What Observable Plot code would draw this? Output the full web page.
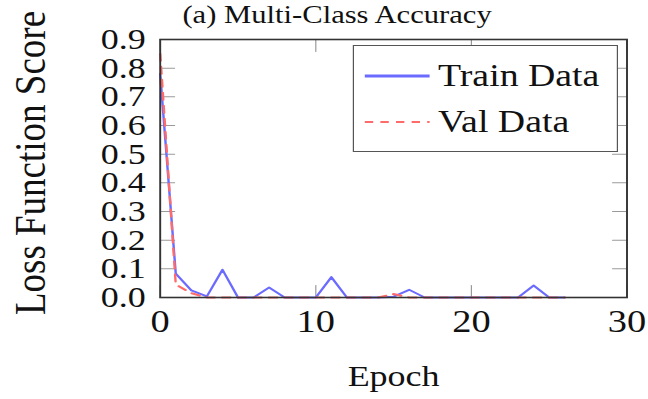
<!DOCTYPE html>
<html>
<head>
<meta charset="utf-8">
<script src="https://cdn.jsdelivr.net/npm/d3@7"></script>
<script src="https://cdn.jsdelivr.net/npm/@observablehq/plot@0.6"></script>
<style>
  html, body { margin: 0; padding: 0; background: #fff; }
  #wrap { position: relative; width: 540px; height: 399px; transform: scaleX(1.2); transform-origin: 0 0;
          font-family: "Liberation Serif", "DejaVu Serif", serif; color: #111; }
  #chart { position: absolute; left: 0; top: 0; }
  #title { position: absolute; left: 152px; top: 2px; font-size: 25.5px; line-height: 26px; white-space: nowrap; }
  #ylabel { position: absolute; left: 25px; top: 163px; font-size: 37px; line-height: 37px; white-space: nowrap;
            transform: translate(-50%, -50%) rotate(-90deg); }
  #legend { position: absolute; left: 294px; top: 45px; width: 221px; height: 107px; border: 1.2px solid #555;
            background: #fff; box-sizing: border-box; }
  .item { position: absolute; left: 8px; display: flex; align-items: center; font-size: 31.5px; line-height: 33px; white-space: nowrap; }
  .item svg { margin-right: 6px; }
</style>
</head>
<body>
<div id="wrap">
  <div id="chart"></div>
  <div id="title">(a) Multi-Class Accuracy</div>
  <div id="ylabel">Loss Function Score</div>
  <div id="legend"></div>
</div>
<script>
// ---- data ----
const epochs    = [0, 1, 2, 3, 4, 5, 6, 7, 8, 9, 10, 11, 12, 13, 14, 15, 16, 17, 18, 19, 20, 21, 22, 23, 24, 25, 26];
const trainLoss = [0.78, 0.083, 0.025, 0.004, 0.097, 0.0, 0.0, 0.035, 0.0, 0.0, 0.0, 0.071, 0.0, 0.0, 0.0, 0.003, 0.027, 0.0, 0.0, 0.0, 0.0, 0.0, 0.0, 0.0, 0.042, 0.0, 0.0];
const valLoss   = [0.85, 0.045, 0.015, 0.0, 0.0, 0.0, 0.0, 0.0, 0.0, 0.0, 0.0, 0.0, 0.0, 0.0, 0.0, 0.012, 0.0, 0.0, 0.0, 0.0, 0.0, 0.0, 0.0, 0.0, 0.0, 0.0, 0.0];
const seriesNames = ["Train Data", "Val Data"];
const xTicks = [0, 10, 20, 30];
const yTicks = [0, 0.1, 0.2, 0.3, 0.4, 0.5, 0.6, 0.7, 0.8, 0.9];
const xDomain = [0, 30];
const yDomain = [0, 0.9];

const trainColor = "#6b6bff";
const valColor = "#ff6b6b";

const rows = epochs.map((e, i) => ({epoch: e, train: trainLoss[i], val: valLoss[i]}));
const spike = {draw(ctx, l) { ctx.moveTo(0, 0); ctx.lineTo(0, -l); }};
const tickStyle = {length: 12, anchor: "start", shape: spike, stroke: "#9a9a9a", strokeWidth: 1};

const chart = Plot.plot({
  width: 540,
  height: 399,
  marginLeft: 133,
  marginRight: 18,
  marginTop: 39,
  marginBottom: 102,
  x: {domain: xDomain},
  y: {domain: yDomain},
  style: {fontFamily: "'Liberation Serif', 'DejaVu Serif', serif", background: "transparent", color: "#111"},
  marks: [
    Plot.vector(yTicks, {...tickStyle, x: () => xDomain[0], y: d => d, rotate: 90}),
    Plot.vector(yTicks, {...tickStyle, x: () => xDomain[1], y: d => d, rotate: -90}),
    Plot.vector(xTicks, {...tickStyle, x: d => d, y: () => yDomain[0], rotate: 0}),
    Plot.vector(xTicks, {...tickStyle, x: d => d, y: () => yDomain[1], rotate: 180}),
    Plot.line(rows, {x: "epoch", y: "train", stroke: trainColor, strokeWidth: 2}),
    Plot.line(rows, {x: "epoch", y: "val", stroke: valColor, strokeWidth: 2, strokeDasharray: "7,6"}),
    Plot.frame({stroke: "#333", strokeWidth: 1.6}),
    Plot.axisY({ticks: yTicks, tickFormat: ".1f", tickSize: 0, tickPadding: 12, fontSize: 30, label: null}),
    Plot.axisX({ticks: xTicks, tickSize: 0, tickPadding: 12, fontSize: 32, label: null}),
    Plot.text(["Epoch"], {text: d => d, frameAnchor: "bottom", dy: 88, lineAnchor: "bottom", fontSize: 30})
  ]
});
document.getElementById("chart").appendChild(chart);

// legend
const legend = document.getElementById("legend");
const legendItems = [
  {name: seriesNames[0], color: trainColor, dash: null, top: 13},
  {name: seriesNames[1], color: valColor, dash: "7,6", top: 59}
];
for (const it of legendItems) {
  const div = document.createElement("div");
  div.className = "item";
  div.style.top = it.top + "px";
  div.innerHTML = `<svg width="56" height="10"><line x1="1" y1="5" x2="55" y2="5" stroke="${it.color}" stroke-width="${it.dash ? 2 : 3}" ${it.dash ? `stroke-dasharray="${it.dash}"` : ""}/></svg><span>${it.name}</span>`;
  legend.appendChild(div);
}
</script>
</body>
</html>
